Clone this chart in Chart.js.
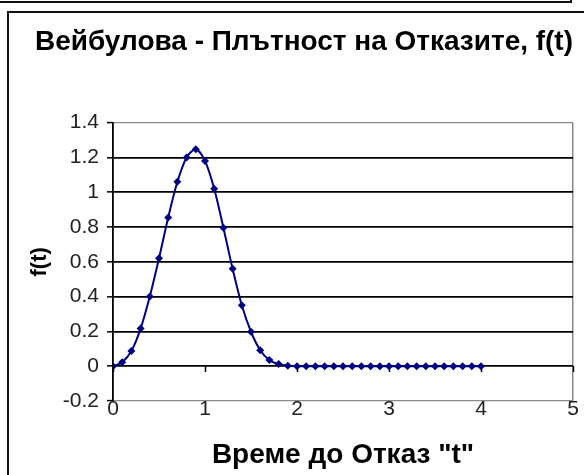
<!DOCTYPE html>
<html>
<head>
<meta charset="utf-8">
<script src="https://cdn.jsdelivr.net/npm/chart.js@4.4.1/dist/chart.umd.min.js"></script>
<style>
  html, body { margin: 0; padding: 0; background: #fff; }
  #wrap { position: relative; width: 584px; height: 475px; }
  canvas { display: block; }
</style>
</head>
<body>
<div id="wrap"><canvas id="c" width="584" height="475"></canvas></div>
<script>
// Weibull failure density f(t), sampled every 0.1 from t = 0 to t = 4
const tValues = [
  0.0, 0.1, 0.2, 0.3, 0.4, 0.5, 0.6, 0.7, 0.8, 0.9,
  1.0, 1.1, 1.2, 1.3, 1.4, 1.5, 1.6, 1.7, 1.8, 1.9,
  2.0, 2.1, 2.2, 2.3, 2.4, 2.5, 2.6, 2.7, 2.8, 2.9,
  3.0, 3.1, 3.2, 3.3, 3.4, 3.5, 3.6, 3.7, 3.8, 3.9, 4.0
];
const fValues = [
  0.000, 0.023, 0.087, 0.216, 0.400, 0.620, 0.855, 1.060, 1.200, 1.247,
  1.180, 1.020, 0.796, 0.560, 0.350, 0.198, 0.092, 0.035, 0.012, 0.003,
  0.000, 0.000, 0.000, 0.000, 0.000, 0.000, 0.000, 0.000, 0.000, 0.000,
  0.000, 0.000, 0.000, 0.000, 0.000, 0.000, 0.000, 0.000, 0.000, 0.000, 0.000
];
const yTicks = [-0.2, 0, 0.2, 0.4, 0.6, 0.8, 1, 1.2, 1.4];
const xTicks = [0, 1, 2, 3, 4, 5];

const chartTitle = 'Вейбулова - Плътност на Отказите, f(t)';
const xTitle = 'Време до Отказ "t"';
const yTitle = 'f(t)';

const points = tValues.map((t, i) => ({ x: t, y: fValues[i] }));
const FONT = '"Liberation Sans", Arial, sans-serif';

// Outer frame lines around the chart
const framePlugin = {
  id: 'frame',
  beforeDraw(chart) {
    const ctx = chart.ctx;
    ctx.save();
    ctx.fillStyle = '#fff';
    ctx.fillRect(0, 0, chart.width, chart.height);
    ctx.strokeStyle = '#111';
    ctx.lineWidth = 2;
    ctx.beginPath();
    ctx.moveTo(0, 2); ctx.lineTo(571, 2); ctx.lineTo(571, 0);
    ctx.stroke();
    ctx.beginPath();
    ctx.moveTo(8, chart.height); ctx.lineTo(8, 12); ctx.lineTo(chart.width, 12);
    ctx.stroke();
    ctx.restore();
  }
};

const isEdge = v => Math.abs(v - 1.4) < 1e-6 || Math.abs(v + 0.2) < 1e-6;

new Chart(document.getElementById('c'), {
  type: 'line',
  data: {
    datasets: [{
      data: points,
      xAxisID: 'x',
      borderColor: '#000080',
      backgroundColor: '#000080',
      borderWidth: 2,
      pointStyle: 'rectRot',
      pointRadius: 4,
      pointBorderWidth: 0,
      pointBackgroundColor: '#000080',
      tension: 0.3,
      fill: false
    }]
  },
  options: {
    responsive: false,
    animation: false,
    layout: { padding: { left: 35, right: 11, top: 0, bottom: 0 } },
    plugins: {
      legend: { display: false },
      tooltip: { enabled: false },
      title: {
        display: true,
        text: chartTitle,
        color: '#000',
        font: { family: FONT, size: 28, weight: 'bold' },
        padding: { top: 25, bottom: 64 }
      }
    },
    scales: {
      x: {
        type: 'linear',
        min: 0, max: 5,
        afterBuildTicks: s => { s.ticks = xTicks.map(v => ({ value: v })); },
        afterFit: s => { s.height = 74; },
        grid: {
          drawTicks: false,
          color: ctx => (ctx.tick && ctx.tick.value === 5) ? '#888' : 'rgba(0,0,0,0)',
          lineWidth: 1.5
        },
        border: { display: false },
        ticks: {
          color: '#222',
          padding: -4,
          font: { family: FONT, size: 21 },
          callback: v => String(v)
        },
        title: {
          display: true,
          text: xTitle,
          color: '#000',
          font: { family: FONT, size: 28, weight: 'bold' },
          padding: { top: 4, bottom: 3 }
        }
      },
      xZero: {
        type: 'linear',
        axis: 'x',
        min: 0, max: 5,
        position: { y: 0 },
        afterBuildTicks: s => { s.ticks = xTicks.map(v => ({ value: v })); },
        grid: {
          drawOnChartArea: false,
          drawTicks: true,
          tickLength: 6,
          tickColor: '#000',
          tickWidth: 1.5
        },
        border: { display: false },
        ticks: { display: false }
      },
      y: {
        type: 'linear',
        min: -0.2, max: 1.4,
        afterBuildTicks: s => { s.ticks = yTicks.map(v => ({ value: v })); },
        afterFit: s => { s.width = 78; },
        grid: {
          color: ctx => isEdge(ctx.tick ? ctx.tick.value : 0) ? '#8a8a8a' : '#000',
          lineWidth: ctx => isEdge(ctx.tick ? ctx.tick.value : 0) ? 1.2 : 1.7,
          tickColor: '#000',
          tickLength: 6,
          tickWidth: 1.5
        },
        border: { display: true, color: '#000', width: 1.8 },
        ticks: {
          color: '#222',
          padding: 8,
          font: { family: FONT, size: 21 },
          callback: v => String(Math.round(v * 10) / 10)
        },
        title: {
          display: true,
          text: yTitle,
          color: '#000',
          font: { family: FONT, size: 22, weight: 'bold' },
          padding: { top: -8, bottom: 0 }
        }
      }
    }
  },
  plugins: [framePlugin]
});
</script>
</body>
</html>
